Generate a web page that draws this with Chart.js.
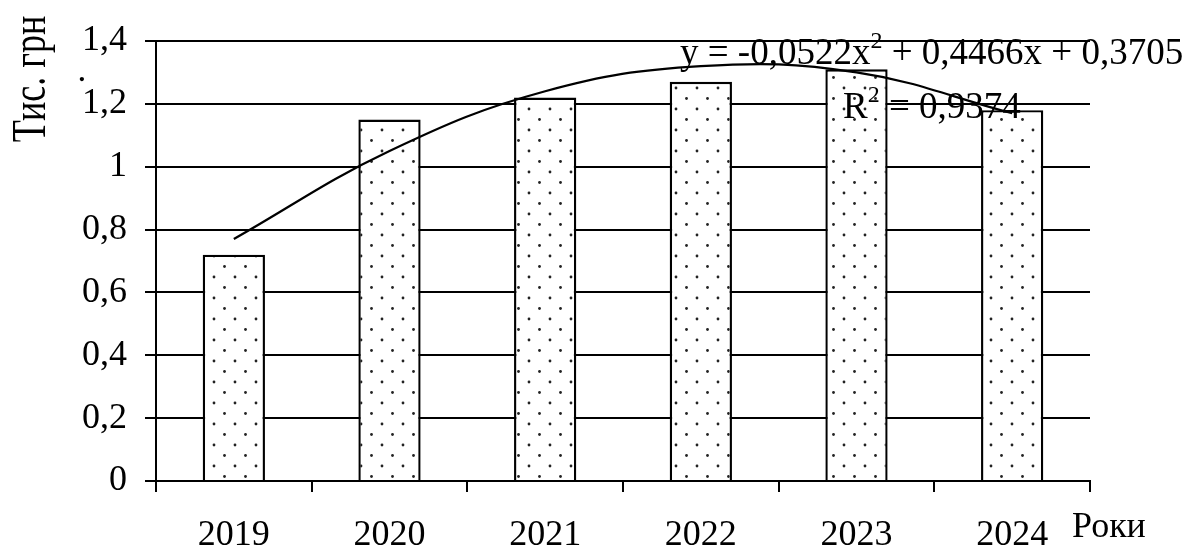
<!DOCTYPE html>
<html><head><meta charset="utf-8">
<script src="https://cdn.jsdelivr.net/npm/chart.js@4/dist/chart.umd.min.js"></script>
<style>html,body{margin:0;padding:0;background:#fff;}#wrap{width:1192px;height:550px;}</style>
</head><body><div id="wrap"><canvas id="c" width="1192" height="550"></canvas></div>
<script>
const years = ['2019', '2020', '2021', '2022', '2023', '2024'];
const values = [0.72, 1.15, 1.22, 1.27, 1.31, 1.18];
const trendValues = [0.77, 1.05, 1.24, 1.32, 1.30, 1.17];
const yTicks = [0, 0.2, 0.4, 0.6, 0.8, 1, 1.2, 1.4];
const yTitle = ['Тис. грн', '.'];
const xTitle = 'Роки';
const eqText = ['y = -0,0522x', '2', ' + 0,4466x + 0,3705'];
const r2Text = ['R', '2', ' = 0,9374'];

const FAM = "'Liberation Serif', 'Times New Roman', serif";
const canvas = document.getElementById('c');
const ctx0 = canvas.getContext('2d');

function makePattern() {
  const c = document.createElement('canvas');
  c.width = 21; c.height = 21;
  const g = c.getContext('2d');
  g.fillStyle = '#fff'; g.fillRect(0, 0, 21, 21);
  g.fillStyle = '#222';
  [[4, 4], [14.5, 14.5]].forEach(([x, y]) => { g.beginPath(); g.arc(x, y, 1.4, 0, Math.PI * 2); g.fill(); });
  return ctx0.createPattern(c, 'repeat');
}

function drawSup(ctx, parts, x, y) {
  ctx.textAlign = 'left'; ctx.textBaseline = 'alphabetic';
  ctx.font = '37px ' + FAM; ctx.fillText(parts[0], x, y);
  x += ctx.measureText(parts[0]).width;
  ctx.font = '24px ' + FAM; ctx.fillText(parts[1], x, y - 16);
  x += ctx.measureText(parts[1]).width;
  ctx.font = '37px ' + FAM; ctx.fillText(parts[2], x, y);
}

const textPlugin = {
  id: 'texts',
  afterDraw(chart) {
    const ctx = chart.ctx;
    ctx.save();
    ctx.fillStyle = '#000';
    ctx.save();
    ctx.translate(45, 79);
    ctx.rotate(-Math.PI / 2);
    ctx.scale(1, 1.35);
    ctx.font = '36px ' + FAM;
    ctx.textAlign = 'center'; ctx.textBaseline = 'alphabetic';
    ctx.fillText(yTitle[0], 0, 0);
    ctx.restore();
    ctx.save();
    ctx.translate(84, 79);
    ctx.rotate(-Math.PI / 2);
    ctx.font = '36px ' + FAM;
    ctx.textAlign = 'center'; ctx.textBaseline = 'alphabetic';
    ctx.fillText(yTitle[1], 0, 0);
    ctx.restore();
    ctx.font = '36px ' + FAM;
    ctx.textAlign = 'left'; ctx.textBaseline = 'alphabetic';
    ctx.fillText(xTitle, 1072, 537);
    drawSup(ctx, eqText, 680, 64);
    drawSup(ctx, r2Text, 843, 118);
    ctx.restore();
  }
};

const font36 = { family: FAM, size: 36 };

new Chart(canvas, {
  data: {
    labels: years,
    datasets: [
      { type: 'line', data: trendValues, borderColor: '#000', borderWidth: 2.2, pointRadius: 0, tension: 0.4, fill: false, order: 0 },
      { type: 'bar', data: values, backgroundColor: makePattern(), borderColor: '#000', borderWidth: 2.4,
        barPercentage: 0.4, categoryPercentage: 1, order: 1 }
    ]
  },
  options: {
    responsive: false,
    animation: false,
    devicePixelRatio: 1,
    layout: { padding: { top: 41, right: 102, left: 0, bottom: 0 } },
    plugins: { legend: { display: false }, tooltip: { enabled: false } },
    scales: {
      x: {
        type: 'category',
        z: 1,
        offset: true,
        grid: { display: true, drawOnChartArea: false, drawTicks: true, tickLength: 11, color: '#000', lineWidth: 2, offset: true },
        border: { display: true, color: '#000', width: 2 },
        ticks: { font: font36, color: '#000', padding: 22, maxRotation: 0 },
        afterFit(s) { s.height = 69; }
      },
      y: {
        min: 0, max: 1.4,
        grid: { color: '#000', lineWidth: 2, drawTicks: true, tickLength: 11 },
        border: { display: true, color: '#000', width: 2 },
        ticks: { font: font36, color: '#000', padding: 18,
          callback: v => (Math.round(v * 10) / 10).toString().replace('.', ',') },
        afterBuildTicks(s) { s.ticks = yTicks.map(v => ({ value: v })); },
        afterFit(s) { s.width = 156; }
      }
    }
  },
  plugins: [textPlugin]
});
</script>
</body></html>
